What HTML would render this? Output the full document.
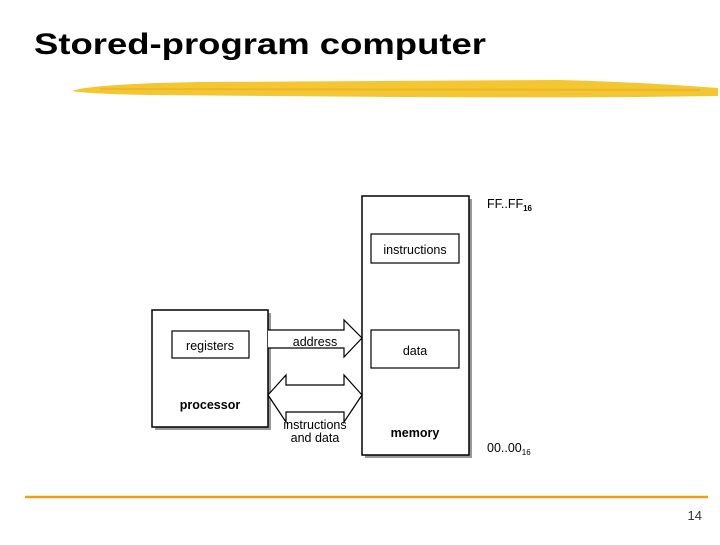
<!DOCTYPE html>
<html><head><style>
body{margin:0;width:720px;height:540px;background:#fff;overflow:hidden;font-family:"Liberation Sans",Arial,sans-serif;}
</style></head><body>
<svg width="720" height="540" xmlns="http://www.w3.org/2000/svg" font-family="Liberation Sans, Arial, sans-serif">
<text x="34" y="54" font-size="30" font-weight="bold" fill="#000" textLength="452" lengthAdjust="spacingAndGlyphs">Stored-program computer</text>
<path d="M72 91 Q90 84 200 82 L560 80 Q640 82 718 88 L718 96 Q600 98 400 97 L150 95 Q90 94 72 91Z" fill="#f3c632"/>
<path d="M100 89 L700 90" stroke="#e8b020" stroke-width="2" opacity="0.6"/>
<rect x="155" y="313" width="116" height="117" fill="#999"/>
<rect x="365" y="199" width="107" height="259" fill="#999"/>
<rect x="152" y="310" width="116" height="117" fill="#fff" stroke="#000" stroke-width="1.5"/>
<rect x="362" y="196" width="107" height="259" fill="#fff" stroke="#000" stroke-width="1.5"/>
<rect x="172" y="331" width="77" height="27" fill="#fff" stroke="#000" stroke-width="1.2"/>
<rect x="371" y="234" width="88" height="29" fill="#fff" stroke="#000" stroke-width="1.2"/>
<rect x="371" y="330" width="88" height="38" fill="#fff" stroke="#000" stroke-width="1.2"/>
<path d="M268 330 L344 330 L344 320 L362 338 L344 357 L344 348 L268 348" fill="#fff" stroke="#000" stroke-width="1.2"/>
<path d="M268 395 L286 375 L286 385 L344 385 L344 375 L362 395 L344 422 L344 412 L286 412 L286 422 Z" fill="#fff" stroke="#000" stroke-width="1.2"/>
<g font-size="12.5" fill="#000">
<text x="210" y="350" text-anchor="middle">registers</text>
<text x="415" y="254" text-anchor="middle">instructions</text>
<text x="415" y="355" text-anchor="middle">data</text>
<text x="315" y="346" text-anchor="middle">address</text>
<text x="315" y="429" text-anchor="middle">instructions</text>
<text x="315" y="442" text-anchor="middle">and data</text>
<text x="210" y="409" text-anchor="middle" font-weight="bold">processor</text>
<text x="415" y="437" text-anchor="middle" font-weight="bold">memory</text>
<text x="487" y="208">FF..FF<tspan font-size="8" font-weight="bold" dy="3">16</tspan></text>
<text x="487" y="452">00..00<tspan font-size="8" dy="3">16</tspan></text>
</g>
<line x1="25" y1="497" x2="708" y2="497" stroke="#e8a020" stroke-width="2.5"/>
<text x="702" y="520" font-size="13" text-anchor="end" fill="#333">14</text>
</svg>
</body></html>
